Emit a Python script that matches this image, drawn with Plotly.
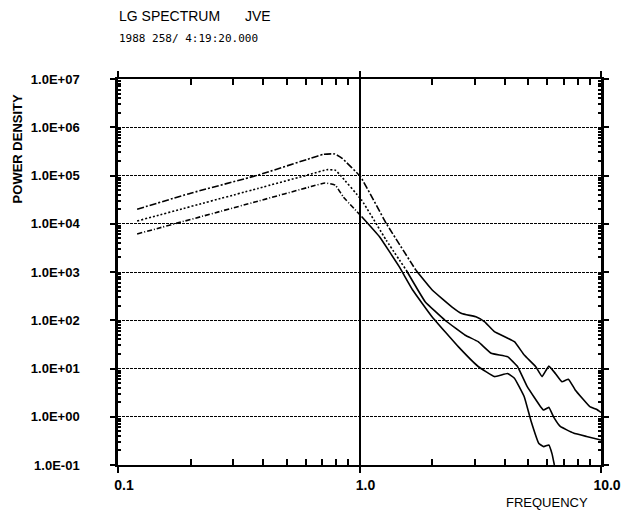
import plotly.graph_objects as go

# Power spectral density curves (frequency in Hz, power density)
freq_upper = [0.12, 0.20, 0.38, 0.63, 0.71, 0.79, 0.845, 1.01, 1.29, 1.71, 2.0, 2.41, 2.65,
              3.05, 3.30, 3.62, 4.38, 4.81, 5.36, 5.70, 6.08, 6.47, 6.89, 7.33, 7.82, 8.99, 9.57, 10.0]
power_upper = [2.0e4, 4.3e4, 1.02e5, 2.29e5, 2.75e5, 2.8e5, 2.3e5, 9.4e4, 1.02e4, 1100, 424, 190, 138,
               117, 93, 58, 36, 19, 11.0, 6.8, 11.2, 7.9, 5.3, 6.0, 3.6, 1.62, 1.43, 1.23]

freq_middle = [0.12, 0.38, 0.63, 0.733, 0.794, 0.832, 1.02, 1.29, 1.56, 1.87, 2.26, 2.74, 3.10,
               3.51, 4.10, 4.51, 4.95, 5.62, 5.79, 6.08, 6.37, 6.78, 7.69, 8.71, 10.0]
power_middle = [1.14e4, 5.4e4, 1.07e5, 1.32e5, 1.29e5, 1.02e5, 3.1e4, 4570, 1100, 243, 100, 49, 36,
                20.7, 17.6, 11.0, 4.2, 1.62, 1.38, 1.57, 0.98, 0.63, 0.46, 0.39, 0.33]

freq_lower = [0.12, 0.38, 0.63, 0.72, 0.794, 0.857, 1.02, 1.21, 1.46, 1.66, 2.0, 2.57, 3.10,
              3.62, 4.10, 4.38, 4.81, 5.12, 5.53, 5.79, 6.08, 6.27, 6.41]
power_lower = [6140, 2.94e4, 5.9e4, 7.0e4, 6.3e4, 3.6e4, 1.41e4, 5370, 1290, 424, 117, 28, 11.0,
               6.8, 7.9, 6.3, 2.6, 0.85, 0.28, 0.24, 0.26, 0.17, 0.1]

# Frequency where each pen switches from broken to continuous stroke
split_upper = 1.71
split_middle = 1.56
split_lower = 1.02

x_tick_vals = [0.1, 1.0, 10.0]
x_tick_text = ["0.1", "1.0", "10.0"]
y_tick_vals = [1e-1, 1e0, 1e1, 1e2, 1e3, 1e4, 1e5, 1e6, 1e7]
y_tick_text = ["1.0E-01", "1.0E+00", "1.0E+01", "1.0E+02", "1.0E+03",
               "1.0E+04", "1.0E+05", "1.0E+06", "1.0E+07"]
minor_x = [m * d for d in (0.1, 1.0) for m in range(2, 10)]
minor_y = [m * 10.0 ** e for e in range(-1, 7) for m in range(2, 10)]

fig = go.Figure()


def add_curve(freq, power, split, dash):
    left = [(f, p) for f, p in zip(freq, power) if f <= split]
    right = [(f, p) for f, p in zip(freq, power) if f >= split]
    for pts, d in ((left, dash), (right, "solid")):
        fig.add_trace(go.Scatter(
            x=[p[0] for p in pts], y=[p[1] for p in pts], mode="lines",
            line=dict(color="black", width=1.6, dash=d, shape="spline", smoothing=0.3),
            showlegend=False, hoverinfo="skip"))


add_curve(freq_upper, power_upper, split_upper, "7px,2px,2px,2px")
add_curve(freq_middle, power_middle, split_middle, "2px,2px")
add_curve(freq_lower, power_lower, split_lower, "5px,2px,1px,2px")

font_main = "Liberation Sans, Arial, sans-serif"

fig.update_xaxes(
    type="log", range=[-1, 1], tickvals=x_tick_vals, ticktext=x_tick_text,
    ticks="outside", ticklen=6, tickwidth=2, tickcolor="black",
    showline=True, linecolor="black", linewidth=2, mirror="allticks",
    showgrid=True, gridcolor="black", gridwidth=1.5, griddash="solid",
    zeroline=False, ticklabelshift=6,
    tickfont=dict(family=font_main, size=14, color="black", weight="bold"),
    minor=dict(tickvals=minor_x, ticks="inside", ticklen=6, tickwidth=1.5,
               tickcolor="black", showgrid=False),
)
fig.update_yaxes(
    type="log", range=[-1, 7], tickvals=y_tick_vals, ticktext=y_tick_text,
    ticks="outside", ticklen=5, tickwidth=2, tickcolor="black",
    showline=True, linecolor="black", linewidth=2.5, mirror="allticks",
    showgrid=True, gridcolor="black", gridwidth=1, griddash="3px,1px",
    zeroline=False, ticklabelstandoff=28,
    tickfont=dict(family=font_main, size=13, color="black", weight="bold"),
    minor=dict(tickvals=minor_y, ticks="inside", ticklen=3, tickwidth=1.5,
               tickcolor="black", showgrid=False),
)

annotations = [
    dict(text="LG SPECTRUM", x=-0.002, y=1.163, xanchor="left", yanchor="middle",
         font=dict(family=font_main, size=14, color="black")),
    dict(text="JVE", x=0.259, y=1.163, xanchor="left", yanchor="middle",
         font=dict(family=font_main, size=14, color="black")),
    dict(text="1988 258/ 4:19:20.000", x=-0.002, y=1.104, xanchor="left", yanchor="middle",
         font=dict(family="DejaVu Sans Mono, monospace", size=11, color="black")),
    dict(text="<b>POWER DENSITY</b>", x=-0.208, y=0.819, xanchor="center", yanchor="middle",
         textangle=-90, font=dict(family=font_main, size=13, color="black")),
    dict(text="FREQUENCY", x=0.888, y=-0.098, xanchor="center", yanchor="middle",
         font=dict(family=font_main, size=13, color="black")),
]
for a in annotations:
    a.update(xref="paper", yref="paper", showarrow=False)

fig.update_layout(
    width=633, height=524,
    margin=dict(l=118, r=25, t=79, b=59),
    paper_bgcolor="white", plot_bgcolor="white",
    annotations=annotations,
)

fig.write_html("out.html")
